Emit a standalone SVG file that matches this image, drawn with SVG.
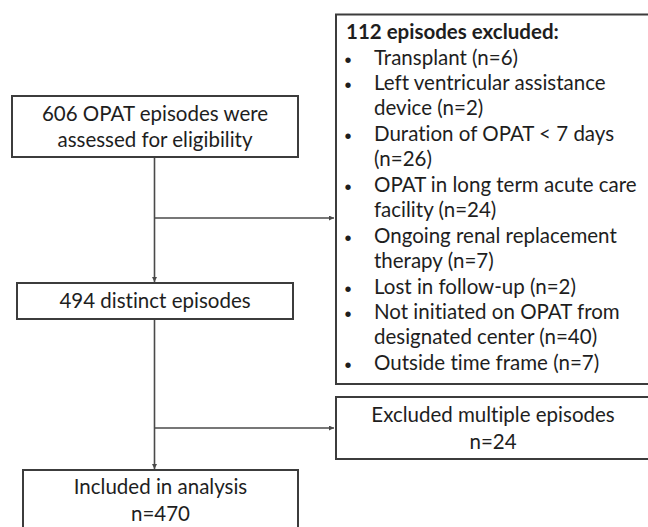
<svg xmlns="http://www.w3.org/2000/svg" width="648" height="527" viewBox="0 0 648 527">
<defs>
<style>
.box{fill:#ffffff;stroke:#3c3c3c;stroke-width:2}
.t{font-family:Lato,"Liberation Sans",sans-serif;font-size:20.5px;fill:#1e1e1e;font-variant-ligatures:none}
.c{text-anchor:middle}
.b{font-weight:bold}
.bu{font-family:"Liberation Sans",sans-serif;font-size:20px;fill:#1e1e1e}
.ln{fill:none;stroke:#4a4a4a;stroke-width:1.6}
</style>
<marker id="ah" viewBox="0 0 10 10" refX="10" refY="5" markerWidth="5" markerHeight="5" markerUnits="userSpaceOnUse" orient="auto">
<path d="M0,0 L10,5 L0,10 z" fill="#4a4a4a"/>
</marker>
</defs>
<rect width="648" height="527" fill="#ffffff"/>
<g id="connectors">
<line class="ln" x1="154.5" y1="157" x2="154.5" y2="282" marker-end="url(#ah)"/>
<line class="ln" x1="154.5" y1="218" x2="334" y2="218" marker-end="url(#ah)"/>
<line class="ln" x1="154.5" y1="319" x2="154.5" y2="469" marker-end="url(#ah)"/>
<line class="ln" x1="154.5" y1="428" x2="334" y2="428" marker-end="url(#ah)"/>
</g>
<g id="node-assessed">
<rect class="box" x="12" y="96" width="286" height="61"/>
<text class="t c" x="155" y="121">606 OPAT episodes were</text>
<text class="t c" x="155" y="146.5">assessed for eligibility</text>
</g>
<g id="node-excluded112">
<rect class="box" x="336" y="14.5" width="320" height="369.5"/>
<text class="t b" x="346" y="39">112 episodes excluded:</text>
<g class="bu">
<text x="344.5" y="66.5">•</text>
<text x="344.5" y="91.9">•</text>
<text x="344.5" y="142.8">•</text>
<text x="344.5" y="193.7">•</text>
<text x="344.5" y="244.6">•</text>
<text x="344.5" y="295.5">•</text>
<text x="344.5" y="321">•</text>
<text x="344.5" y="371.9">•</text>
</g>
<g class="t">
<text x="374" y="64.5">Transplant (n=6)</text>
<text x="374" y="89.9">Left ventricular assistance</text>
<text x="374" y="115.4">device (n=2)</text>
<text x="374" y="140.8">Duration of OPAT &lt; 7 days</text>
<text x="374" y="166.3">(n=26)</text>
<text x="374" y="191.7">OPAT in long term acute care</text>
<text x="374" y="217.2">facility (n=24)</text>
<text x="374" y="242.6">Ongoing renal replacement</text>
<text x="374" y="268.1">therapy (n=7)</text>
<text x="374" y="293.5">Lost in follow-up (n=2)</text>
<text x="374" y="319">Not initiated on OPAT from</text>
<text x="374" y="344.4">designated center (n=40)</text>
<text x="374" y="369.9">Outside time frame (n=7)</text>
</g>
</g>
<g id="node-distinct">
<rect class="box" x="17" y="283" width="276" height="36"/>
<text class="t c" x="155" y="308">494 distinct episodes</text>
</g>
<g id="node-multiple">
<rect class="box" x="336" y="397" width="320" height="62"/>
<text class="t c" x="493" y="422">Excluded multiple episodes</text>
<text class="t c" x="493" y="449">n=24</text>
</g>
<g id="node-included">
<rect class="box" x="23" y="470" width="275" height="62"/>
<text class="t c" x="160.5" y="494">Included in analysis</text>
<text class="t c" x="160.5" y="521">n=470</text>
</g>
</svg>
